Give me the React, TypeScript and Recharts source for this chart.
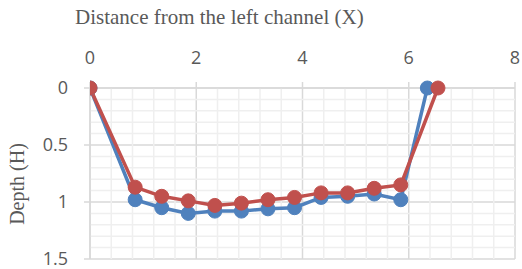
import { LineChart, Line, XAxis, YAxis, CartesianGrid, ReferenceLine } from 'recharts';

const blueX = [0, 0.85, 1.35, 1.85, 2.35, 2.85, 3.35, 3.85, 4.35, 4.85, 5.35, 5.85, 6.35];
const blueH = [0, 0.98, 1.05, 1.1, 1.08, 1.08, 1.06, 1.05, 0.96, 0.95, 0.93, 0.98, 0];
const redX = [0, 0.85, 1.35, 1.85, 2.35, 2.85, 3.35, 3.85, 4.35, 4.85, 5.35, 5.85, 6.55];
const redH = [0, 0.87, 0.95, 0.99, 1.03, 1.01, 0.98, 0.96, 0.92, 0.92, 0.88, 0.85, 0];

const xTicks = [0, 2, 4, 6, 8];
const yTicks = [0, 0.5, 1, 1.5];
const xMinor = [0.4, 0.8, 1.2, 1.6, 2.4, 2.8, 3.2, 3.6, 4.4, 4.8, 5.2, 5.6, 6.4, 6.8, 7.2, 7.6];
const yMinor = [0.1, 0.2, 0.3, 0.4, 0.6, 0.7, 0.8, 0.9, 1.1, 1.2, 1.3, 1.4];

const BLUE = '#4f81bd';
const RED = '#c0504d';
const tickStyle = { fill: '#595959', fontSize: 18, fontFamily: 'Open Sans, sans-serif' };

const blueData = blueX.map((x, i) => ({ x, h: blueH[i] }));
const redData = redX.map((x, i) => ({ x, h: redH[i] }));

export default function App() {
  return (
    <div style={{ position: 'absolute', left: 0, top: 0, width: 522, height: 269, background: '#fff' }}>
      <div
        style={{
          position: 'absolute',
          left: 75,
          top: 5,
          fontFamily: 'Liberation Serif, serif',
          fontSize: 21,
          lineHeight: '24px',
          color: '#595959',
          whiteSpace: 'nowrap',
        }}
      >
        Distance from the left channel (X)
      </div>
      <div
        style={{
          position: 'absolute',
          left: 17,
          top: 184,
          transform: 'translate(-50%, -50%) rotate(-90deg)',
          fontFamily: 'Liberation Serif, serif',
          fontSize: 20,
          lineHeight: '24px',
          color: '#595959',
          whiteSpace: 'nowrap',
        }}
      >
        Depth (H)
      </div>
      <LineChart width={522} height={269} margin={{ top: 0, right: 7, bottom: 10, left: 0 }}>
        <CartesianGrid stroke="#d9d9d9" strokeWidth={1.5} />
        {xMinor.map((v) => (
          <ReferenceLine key={'x' + v} x={v} stroke="#efefef" strokeWidth={1.5} />
        ))}
        {yMinor.map((v) => (
          <ReferenceLine key={'y' + v} y={v} stroke="#efefef" strokeWidth={1.5} />
        ))}
        <XAxis
          type="number"
          dataKey="x"
          orientation="top"
          domain={[0, 8]}
          ticks={xTicks}
          height={88}
          tick={tickStyle}
          tickSize={6}
          tickMargin={18}
          stroke="#d9d9d9"
          strokeWidth={1.5}
          allowDataOverflow
        />
        <YAxis
          type="number"
          dataKey="h"
          reversed
          domain={[0, 1.5]}
          ticks={yTicks}
          width={90}
          tick={tickStyle}
          tickSize={6}
          tickMargin={16}
          stroke="#d9d9d9"
          strokeWidth={1.5}
          tickFormatter={(v) => String(v)}
        />
        <Line
          data={blueData}
          dataKey="h"
          stroke={BLUE}
          strokeWidth={3.5}
          dot={{ r: 7, fill: BLUE, stroke: BLUE, strokeWidth: 1 }}
          isAnimationActive={false}
        />
        <Line
          data={redData}
          dataKey="h"
          stroke={RED}
          strokeWidth={3.5}
          dot={{ r: 7, fill: RED, stroke: RED, strokeWidth: 1 }}
          isAnimationActive={false}
        />
      </LineChart>
    </div>
  );
}
